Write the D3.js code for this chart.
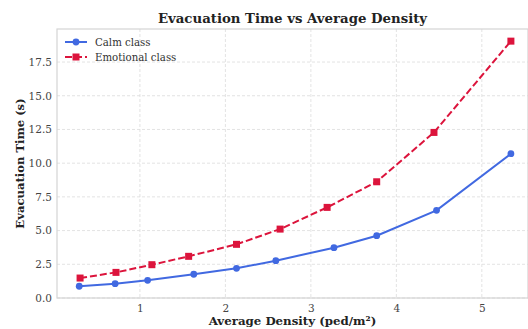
<!DOCTYPE html>
<html><head><meta charset="utf-8">
<script src="https://cdn.jsdelivr.net/npm/d3@7"></script>
<style>body{margin:0;background:#fff;}svg{display:block;}</style>
</head><body>
<script>
const calmDensity = [0.29, 0.71, 1.09, 1.63, 2.13, 2.59, 3.27, 3.77, 4.47, 5.34];
const calmTime = [0.87, 1.06, 1.31, 1.76, 2.20, 2.77, 3.73, 4.62, 6.50, 10.70];
const emoDensity = [0.30, 0.72, 1.14, 1.57, 2.13, 2.64, 3.19, 3.77, 4.44, 5.34];
const emoTime = [1.48, 1.90, 2.47, 3.09, 3.98, 5.11, 6.72, 8.62, 12.28, 19.05];
const yTicks = [0, 2.5, 5, 7.5, 10, 12.5, 15, 17.5];
const xTicks = [1, 2, 3, 4, 5];
const seriesNames = ["Calm class", "Emotional class"];

const W = 528, H = 329;
const m = {l: 57, r: 0, t: 29, b: 31};
const svg = d3.select("body").append("svg").attr("width", W).attr("height", H);
const x = d3.scaleLinear().domain([0.03, 5.54]).range([m.l, W - m.r]);
const y = d3.scaleLinear().domain([0, 19.95]).range([H - m.b, m.t]);
const font = "DejaVu Serif";

// grid
const g = svg.append("g");
g.selectAll(".gx").data(xTicks).join("line")
  .attr("x1", d => x(d)).attr("x2", d => x(d)).attr("y1", m.t).attr("y2", H - m.b)
  .attr("stroke", "#dcdcdc").attr("stroke-width", 0.8).attr("stroke-dasharray", "3,2");
g.selectAll(".gy").data(yTicks).join("line")
  .attr("x1", m.l).attr("x2", W - m.r).attr("y1", d => y(d)).attr("y2", d => y(d))
  .attr("stroke", "#dcdcdc").attr("stroke-width", 0.8).attr("stroke-dasharray", "3,2");

// axes
const xAxis = svg.append("g").attr("transform", `translate(0,${H - m.b})`)
  .call(d3.axisBottom(x).tickValues(xTicks).tickSize(0).tickPadding(7).tickFormat(d3.format("d")));
const yAxis = svg.append("g").attr("transform", `translate(${m.l},0)`)
  .call(d3.axisLeft(y).tickValues(yTicks).tickSize(0).tickPadding(5).tickFormat(d3.format(".1f")));
[xAxis, yAxis].forEach(a => {
  a.select(".domain").remove();
  a.selectAll("text").attr("font-family", font).attr("font-size", 10.5).attr("fill", "#444");
});
// spines
svg.append("rect").attr("x", m.l).attr("y", m.t).attr("width", W - m.r - m.l).attr("height", H - m.b - m.t)
  .attr("fill", "none").attr("stroke", "#d4d4d4").attr("stroke-width", 1.2);

const calm = calmDensity.map((d, i) => [d, calmTime[i]]);
const emo = emoDensity.map((d, i) => [d, emoTime[i]]);
const line = d3.line().x(d => x(d[0])).y(d => y(d[1]));
const blue = "#4169E1", red = "#DC143C";

svg.append("path").datum(calm).attr("d", line).attr("fill", "none").attr("stroke", blue).attr("stroke-width", 2);
svg.selectAll(".c").data(calm).join("circle").attr("cx", d => x(d[0])).attr("cy", d => y(d[1])).attr("r", 3.4).attr("fill", blue);
svg.append("path").datum(emo).attr("d", line).attr("fill", "none").attr("stroke", red).attr("stroke-width", 2).attr("stroke-dasharray", "7,3");
svg.selectAll(".s").data(emo).join("rect").attr("x", d => x(d[0]) - 3.5).attr("y", d => y(d[1]) - 3.5).attr("width", 7).attr("height", 7).attr("fill", red);

// legend
const leg = svg.append("g");
[[blue, "none", "circle"], [red, "7,3", "rect"]].forEach((s, i) => {
  const yy = 42 + i * 15;
  leg.append("line").attr("x1", 65).attr("x2", 87).attr("y1", yy).attr("y2", yy).attr("stroke", s[0]).attr("stroke-width", 2).attr("stroke-dasharray", s[1]);
  if (s[2] === "circle") leg.append("circle").attr("cx", 76).attr("cy", yy).attr("r", 3.4).attr("fill", s[0]);
  else leg.append("rect").attr("x", 72.5).attr("y", yy - 3.5).attr("width", 7).attr("height", 7).attr("fill", s[0]);
  leg.append("text").attr("x", 95).attr("y", yy).attr("dy", "0.35em").attr("font-family", font).attr("font-size", 10.2).attr("fill", "#333").text(seriesNames[i]);
});

// titles
svg.append("text").attr("x", (m.l + W - m.r) / 2).attr("y", 23).attr("text-anchor", "middle")
  .attr("font-family", font).attr("font-weight", "bold").attr("font-size", 13.3).attr("fill", "#222").text("Evacuation Time vs Average Density");
svg.append("text").attr("x", (m.l + W - m.r) / 2).attr("y", 325).attr("text-anchor", "middle")
  .attr("font-family", font).attr("font-weight", "bold").attr("font-size", 11.8).attr("fill", "#222").text("Average Density (ped/m²)");
svg.append("text").attr("transform", `translate(24,${(m.t + H - m.b) / 2}) rotate(-90)`).attr("text-anchor", "middle")
  .attr("font-family", font).attr("font-weight", "bold").attr("font-size", 11.6).attr("fill", "#222").text("Evacuation Time (s)");
</script>
</body></html>
